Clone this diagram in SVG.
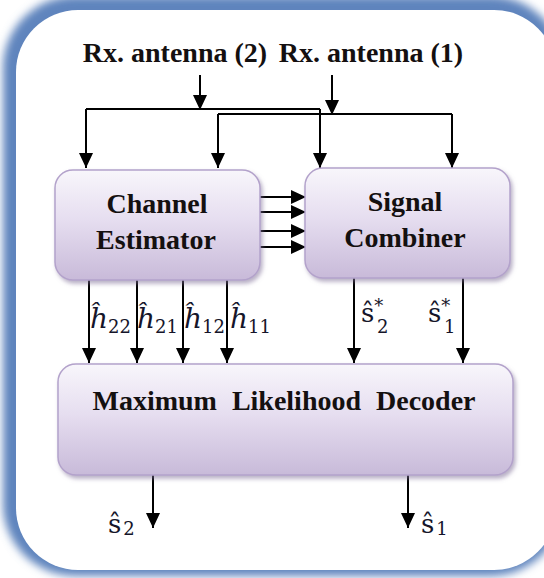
<svg xmlns="http://www.w3.org/2000/svg" width="544" height="578" viewBox="0 0 544 578">
<defs>
  <linearGradient id="boxg" x1="0" y1="0" x2="0" y2="1">
    <stop offset="0" stop-color="#f8f6fb"/>
    <stop offset="0.45" stop-color="#e6def0"/>
    <stop offset="1" stop-color="#c8bad9"/>
  </linearGradient>
  <filter id="blur" x="-10%" y="-10%" width="120%" height="120%">
    <feGaussianBlur stdDeviation="4"/>
  </filter>
  <filter id="shadow" x="-10%" y="-10%" width="125%" height="130%">
    <feDropShadow dx="2" dy="3" stdDeviation="2" flood-color="#7d6e96" flood-opacity="0.55"/>
  </filter>
  <marker id="arr" markerUnits="userSpaceOnUse" markerWidth="16" markerHeight="16" refX="15" refY="7" orient="auto" viewBox="0 0 16 14">
    <path d="M0,0 L15,7 L0,14 z" fill="#000"/>
  </marker>
  <style>
    .box { fill: url(#boxg); stroke: #b3a2cb; stroke-width: 1.5; filter: url(#shadow); }
    .lbl { font-family: "Liberation Serif", "Times New Roman", serif; font-weight: bold; font-size: 28px; fill: #141010; text-anchor: middle; }
    .math { font-family: "DejaVu Serif", "Liberation Serif", serif; fill: #15152a; }
    .hi { font-style: italic; font-size: 28px; }
    .su { font-size: 26px; }
    .sub { font-size: 18px; font-style: normal; }
    .ln { fill: none; stroke: #000; stroke-width: 2; }
    .ar { fill: none; stroke: #000; stroke-width: 2; marker-end: url(#arr); }
  </style>
</defs>

<g id="frame">
  <rect x="3" y="-4" width="560" height="580" rx="72" fill="#5f84bd" filter="url(#blur)"/>
  <rect x="16" y="10" width="540" height="560" rx="62" fill="#ffffff"/>
</g>

<g id="inputs">
  <text class="lbl" x="175" y="62">Rx. antenna (2)</text>
  <text class="lbl" x="371" y="62">Rx. antenna (1)</text>
</g>

<g id="connectors">
  <path class="ar" d="M200,75 V110"/>
  <path class="ln" d="M86,109 H320"/>
  <path class="ar" d="M86,109 V168"/>
  <path class="ar" d="M320,109 V168"/>
  <path class="ar" d="M332,75 V115"/>
  <path class="ln" d="M218,114 H452"/>
  <path class="ar" d="M218,114 V168"/>
  <path class="ar" d="M452,114 V168"/>

  <path class="ar" d="M260,197 H306"/>
  <path class="ar" d="M260,212 H306"/>
  <path class="ar" d="M260,231 H306"/>
  <path class="ar" d="M260,247 H306"/>

  <path class="ar" d="M89,280 V363"/>
  <path class="ar" d="M137,280 V363"/>
  <path class="ar" d="M183,280 V363"/>
  <path class="ar" d="M227,280 V363"/>
  <path class="ar" d="M354,278 V363"/>
  <path class="ar" d="M463,278 V363"/>

  <path class="ar" d="M153,475 V528"/>
  <path class="ar" d="M408,473 V528"/>
</g>

<g id="channel-estimator">
  <rect class="box" x="55" y="170" width="205" height="110" rx="18"/>
  <text class="lbl" x="157" y="213">Channel</text>
  <text class="lbl" x="156" y="249">Estimator</text>
</g>

<g id="signal-combiner">
  <rect class="box" x="305" y="168" width="205" height="110" rx="18"/>
  <text class="lbl" x="405" y="211">Signal</text>
  <text class="lbl" x="405" y="247">Combiner</text>
</g>

<g id="ml-decoder">
  <rect class="box" x="58" y="364" width="455" height="111" rx="18"/>
  <text class="lbl" x="284" y="410" word-spacing="8">Maximum Likelihood Decoder</text>
</g>

<g id="labels">
  <text class="math hi" x="90" y="328">ĥ<tspan class="sub" dy="5">22</tspan></text>
  <text class="math hi" x="137" y="328">ĥ<tspan class="sub" dy="5">21</tspan></text>
  <text class="math hi" x="184" y="328">ĥ<tspan class="sub" dy="5">12</tspan></text>
  <text class="math hi" x="230" y="328">ĥ<tspan class="sub" dy="5">11</tspan></text>
  <text class="math su" x="361" y="322">ŝ<tspan class="sub" dy="-10">*</tspan><tspan class="sub" x="377" dy="21">2</tspan></text>
  <text class="math su" x="428" y="322">ŝ<tspan class="sub" dy="-10">*</tspan><tspan class="sub" x="444" dy="21">1</tspan></text>
  <text class="math su" x="108" y="533">ŝ<tspan class="sub" dx="2" dy="2">2</tspan></text>
  <text class="math su" x="421" y="533">ŝ<tspan class="sub" dx="2" dy="2">1</tspan></text>
</g>
</svg>
